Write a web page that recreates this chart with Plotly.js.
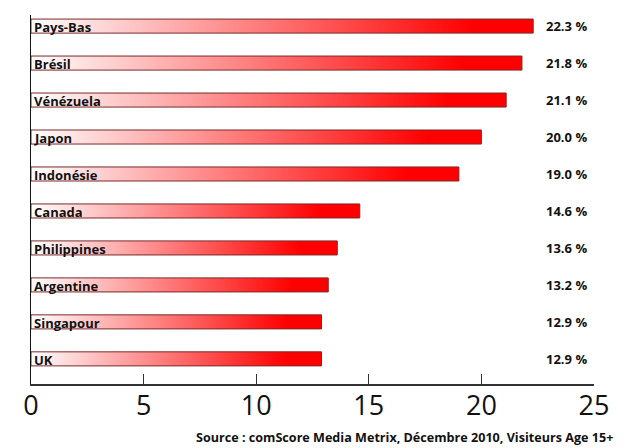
<!DOCTYPE html>
<html><head><meta charset="utf-8">
<script src="https://cdn.plot.ly/plotly-3.0.1.min.js"></script>
<style>html,body{margin:0;padding:0;background:#fff}#chart{width:629px;height:448px}</style>
</head><body><div id="chart"></div>
<script>
const countries = ['Pays-Bas','Brésil','Vénézuela','Japon','Indonésie','Canada','Philippines','Argentine','Singapour','UK'];
const values = [22.3,21.8,21.1,20.0,19.0,14.6,13.6,13.2,12.9,12.9];
const xTicks = [0,5,10,15,20,25];
const source = 'Source : comScore Media Metrix, Décembre 2010, Visiteurs Age 15+';

const half = 0.19;
const traces = countries.map((c, i) => ({
  type: 'scatter', mode: 'lines',
  x: [0, values[i], values[i], 0, 0],
  y: [i + half, i + half, i - half, i - half, i + half],
  fill: 'toself',
  fillgradient: {type: 'horizontal', colorscale: [[0, '#ffffff'], [0.88, '#ff0000'], [1, '#ff0000']]},
  line: {color: '#7a2a2a', width: 1},
  hoverinfo: 'skip', showlegend: false
}));

const annotations = [];
countries.forEach((c, i) => {
  annotations.push({x: 0, y: i + 0.03, xref: 'x', yref: 'y', text: '<b>' + c + '</b>', showarrow: false,
    xanchor: 'left', yanchor: 'middle', xshift: 1,
    font: {family: 'Open Sans', size: 13, color: '#111'}});
  annotations.push({x: 0.911, y: i, xref: 'paper', yref: 'y', text: '<b>' + values[i].toFixed(1) + ' %</b>', showarrow: false,
    xanchor: 'left', yanchor: 'middle',
    font: {family: 'Open Sans', size: 13, color: '#111'}});
});
annotations.push({x: 1.037, y: -0.145, xref: 'paper', yref: 'paper', text: '<b>' + source + '</b>',
  showarrow: false, xanchor: 'right', yanchor: 'middle', font: {family: 'Open Sans', size: 12.6, color: '#111'}});

const layout = {
  width: 629, height: 448,
  margin: {l: 31, r: 35, t: 15, b: 64},
  paper_bgcolor: '#fff', plot_bgcolor: '#fff',
  xaxis: {range: [0, 25], tickvals: xTicks, ticktext: xTicks.map(String), ticks: 'inside', ticklen: 10, tickcolor: '#333',
    showgrid: false, zeroline: false, showline: true, linecolor: '#333', linewidth: 1.5,
    tickfont: {family: 'Open Sans', size: 27, color: '#111'}, ticklabelstandoff: -3},
  yaxis: {range: [9.68, -0.3], showticklabels: false, ticks: '', showgrid: false, zeroline: false,
    showline: true, linecolor: '#111', linewidth: 1.5},
  annotations: annotations
};
Plotly.newPlot('chart', traces, layout, {displayModeBar: false, staticPlot: true});
</script></body></html>
